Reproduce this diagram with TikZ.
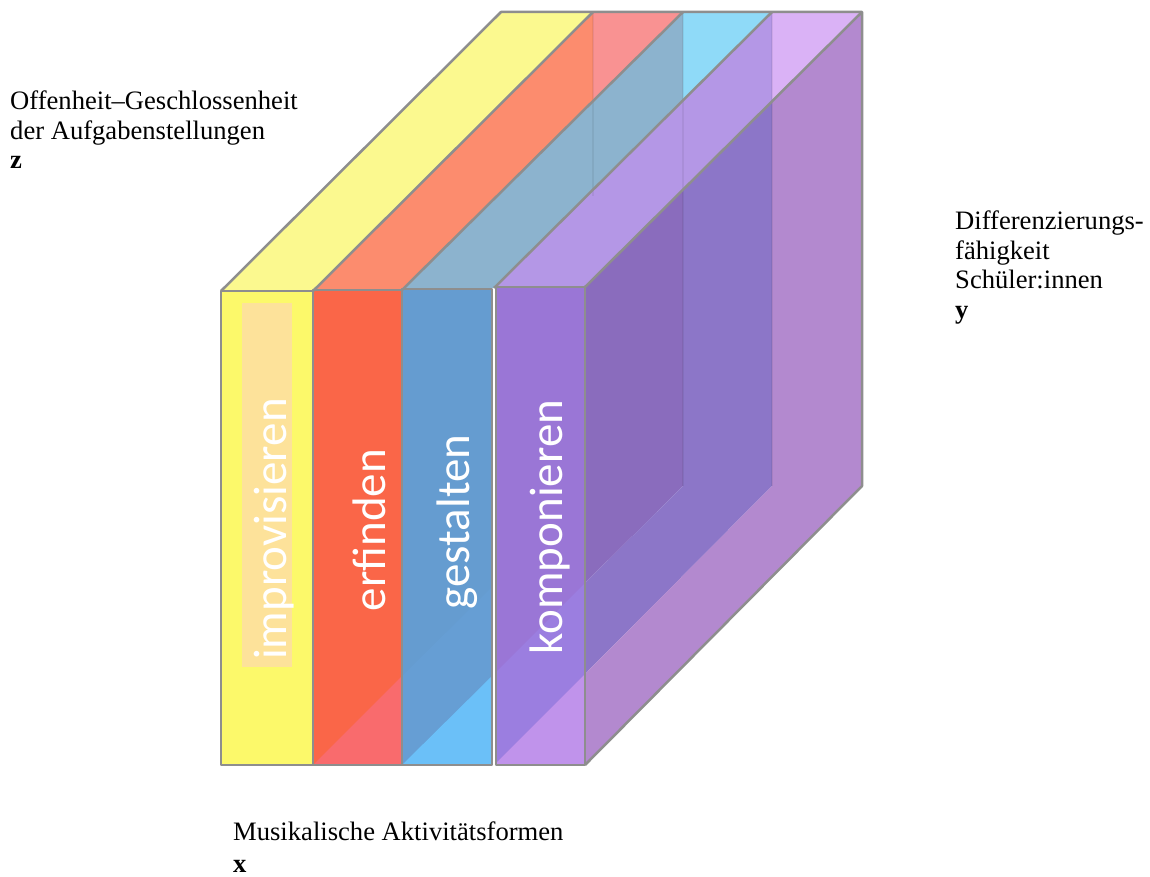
\documentclass[tikz,border=0pt]{standalone}
\usepackage{fontspec}
\setmainfont{Liberation Serif}
\newfontfamily\actfont{Carlito}
\definecolor{edgegray}{HTML}{8E8E8E}
\definecolor{yelF}{HTML}{FCF96A}
\definecolor{yelPale}{HTML}{FDE29A}
\definecolor{yelT}{HTML}{FBF98F}
\definecolor{redF}{HTML}{FA6648}
\definecolor{redFb}{HTML}{F96B6D}
\definecolor{redT}{HTML}{FC8C6E}
\definecolor{redTb}{HTML}{F99292}
\definecolor{bluF}{HTML}{659CD0}
\definecolor{bluFm}{HTML}{669ED4}
\definecolor{bluFb}{HTML}{6BC0F8}
\definecolor{bluT}{HTML}{8CB3CE}
\definecolor{bluTb}{HTML}{8FDAF8}
\definecolor{purF}{HTML}{9A76D6}
\definecolor{purFm}{HTML}{9B7EE0}
\definecolor{purFb}{HTML}{C093EB}
\definecolor{purT}{HTML}{B497E6}
\definecolor{purTb}{HTML}{DAB2F6}
\definecolor{sideDark}{HTML}{8A6CBD}
\definecolor{sideMed}{HTML}{8C76C8}
\definecolor{sideLight}{HTML}{B389CF}
\tikzset{
  edge/.style={draw=edgegray, line width=2.5pt, line join=round},
  faint/.style={draw=black, opacity=0.06, line width=1.5pt},
  axislabel/.style={font=\fontsize{26.6}{29.5}\selectfont, align=left, inner sep=0pt, anchor=north west},
  actlabel/.style={font=\actfont\fontsize{47}{50}\selectfont, text=white, rotate=90, inner sep=0pt},
}
\begin{document}
\begin{tikzpicture}[x=1pt,y=-1pt]
\useasboundingbox (0,0) rectangle (1150,877);

% ---- top faces ----
\fill[yelT] (221,291) -- (501,12) -- (593,12) -- (313,291) -- cycle;
\fill[redT] (313,291) -- (593,12) -- (683,12) -- (402,290) -- cycle;
\fill[redTb] (593,12) -- (683,12) -- (593,101) -- cycle;
\fill[bluT] (402,290) -- (683,12) -- (772,12) -- (494,288) -- cycle;
\fill[bluTb] (683,12) -- (772,12) -- (683,100) -- cycle;
\fill[purT] (494,288) -- (772,12) -- (862,12) -- (585,287) -- cycle;
\fill[purTb] (772,12) -- (862,12) -- (772,101) -- cycle;

% ---- right side zone ----
\fill[sideDark] (585,287) -- (683,190) -- (683,486) -- (585,583) -- cycle;
\fill[sideMed] (683,190) -- (772,101) -- (772,486) -- (585,674) -- (585,583) -- (683,486) -- cycle;
\fill[sideLight] (772,101) -- (862,12) -- (862,486) -- (585,765) -- (585,674) -- (772,486) -- cycle;

% ---- front faces ----
\fill[yelF] (221,291) rectangle (313,765);
\fill[yelPale] (242,303) rectangle (292,667);
\fill[redF] (313,290) rectangle (402,765);
\fill[redFb] (313,765) -- (402,765) -- (402,676) -- cycle;
\fill[bluF] (402,289) rectangle (492,765);
\fill[bluFm] (402,676) -- (492,587) -- (492,676) -- (402,765) -- cycle;
\fill[bluFb] (402,765) -- (492,676) -- (492,765) -- cycle;
\fill[purF] (496,287) rectangle (585,765);
\fill[purFm] (496,672) -- (585,583) -- (585,674) -- (496,763) -- cycle;
\fill[purFb] (496,763) -- (585,674) -- (585,765) -- (496,765) -- cycle;

% ---- faint back-face edges ----
\draw[faint] (593,12) -- (593,196);
\draw[faint] (683,12) -- (683,486);
\draw[faint] (772,12) -- (772,486);

% ---- gray outlines ----
\draw[edge] (221,291) rectangle (313,765);
\draw[edge] (313,290) rectangle (402,765);
\draw[edge] (402,289) rectangle (492,765);
\draw[edge] (496,287) rectangle (585,765);
\draw[edge] (221,291) -- (501,12) -- (862,12) -- (862,486) -- (585,765);
\draw[edge] (313,291) -- (593,12);
\draw[edge] (402,290) -- (683,12);
\draw[edge] (494,288) -- (772,12);
\draw[edge] (585,287) -- (862,12);

% ---- activity labels ----
\node[actlabel] (impro) at (274,529) {improvisieren};
\node[actlabel] (erf) at (369,530) {erfinden};
\node[actlabel] (gest) at (457,522) {gestalten};
\node[actlabel] (komp) at (550,527) {komponieren};

% ---- axis labels ----
\node[axislabel] (zlab) at (10,91) {Offenheit–Geschlossenheit\\der Aufgabenstellungen\\\textbf{z}};
\node[axislabel] (ylab) at (955,211) {Differenzierungs-\\fähigkeit\\Schüler:innen\\\textbf{y}};
\node[axislabel, font=\fontsize{26.6}{32}\selectfont] (xlab) at (233,822) {Musikalische Aktivitätsformen\\\textbf{x}};
\end{tikzpicture}
\end{document}
